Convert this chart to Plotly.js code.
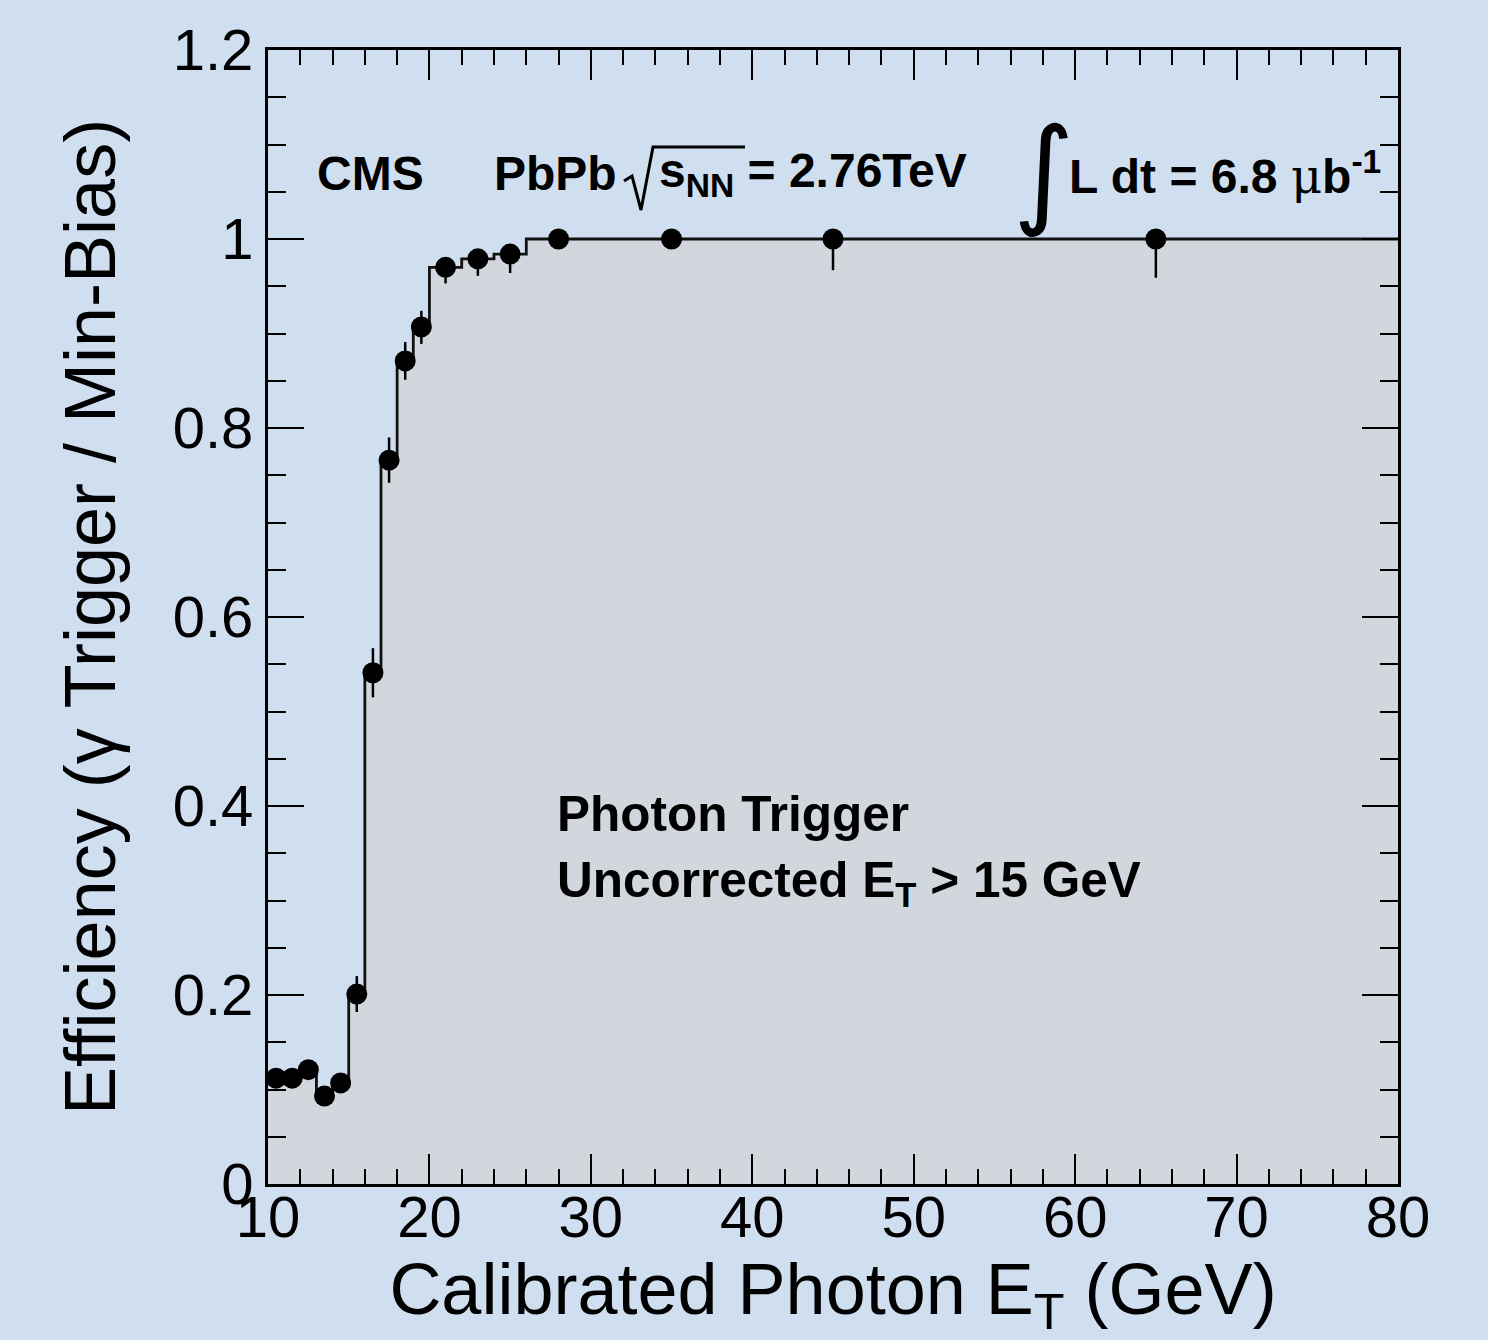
<!DOCTYPE html>
<html>
<head>
<meta charset="utf-8">
<script src="https://cdn.plot.ly/plotly-3.0.1.min.js"></script>
<style>
  html, body { margin: 0; padding: 0; background: #cfdff0; }
  #chart { width: 1488px; height: 1340px; }
</style>
</head>
<body>
<div id="chart"></div>
<script>
// ---- data ----
// histogram bin edges (GeV) and efficiency per bin
const binEdges = [10, 11, 12, 13, 14, 15, 16, 17, 18, 19, 20, 22, 24, 26, 30, 40, 50, 80];
const binCenters = [10.5, 11.5, 12.5, 13.5, 14.5, 15.5, 16.5, 17.5, 18.5, 19.5, 21, 23, 25, 28, 35, 45, 65];
const efficiency = [0.112, 0.112, 0.121, 0.093, 0.107, 0.201, 0.541, 0.766, 0.871, 0.907, 0.970, 0.979, 0.984, 1.0, 1.0, 1.0, 1.0];
const errUp   = [0.010, 0.010, 0.010, 0.010, 0.010, 0.019, 0.026, 0.024, 0.020, 0.017, 0.010, 0.009, 0.008, 0.0, 0.0, 0.0, 0.0];
const errDown = [0.010, 0.010, 0.010, 0.010, 0.010, 0.019, 0.026, 0.024, 0.020, 0.018, 0.017, 0.018, 0.020, 0.008, 0.010, 0.033, 0.041];

const xTickVals = [10, 20, 30, 40, 50, 60, 70, 80];
const yTickVals = [0, 0.2, 0.4, 0.6, 0.8, 1.0, 1.2];
const yTickText = ['0', '0.2', '0.4', '0.6', '0.8', '1', '1.2'];

// step histogram: each bin's left edge with its value, closed at the last edge
const stepX = binEdges.slice();
const stepY = efficiency.concat([efficiency[efficiency.length - 1]]);

const FONT = 'Liberation Sans, Arial, Helvetica, sans-serif';
const BG = '#cfdff0';

const histTrace = {
  type: 'scatter',
  mode: 'lines',
  x: stepX,
  y: stepY,
  line: { shape: 'hv', color: '#111111', width: 2.8 },
  fill: 'tozeroy',
  fillcolor: '#d2d7de',
  hoverinfo: 'skip',
  showlegend: false
};

const pointTrace = {
  type: 'scatter',
  mode: 'markers',
  x: binCenters,
  y: efficiency,
  marker: { color: '#000000', size: 21, symbol: 'circle' },
  error_y: {
    type: 'data', symmetric: false,
    array: errUp, arrayminus: errDown,
    color: '#000000', thickness: 2.5, width: 0
  },
  showlegend: false
};

const axisCommon = {
  showline: true, linecolor: '#000000', linewidth: 3,
  mirror: 'allticks',
  ticks: 'inside', tickcolor: '#000000', tickwidth: 2,
  showgrid: false, zeroline: false,
  tickfont: { family: FONT, size: 58, color: '#000000' }
};

// text positions in paper fractions for the radical sign decoration
const px = p => (p - 268) / 1130;
const py = p => (1184 - p) / 1134;

const layout = {
  width: 1488, height: 1340,
  paper_bgcolor: BG, plot_bgcolor: BG,
  margin: { l: 268, r: 90, t: 50, b: 156 },
  showlegend: false,
  xaxis: Object.assign({}, axisCommon, {
    range: [10, 80],
    tickmode: 'array', tickvals: xTickVals,
    ticklen: 30,
    ticklabelstandoff: -20,
    minor: { dtick: 2, tick0: 10, ticklen: 15, tickwidth: 2, tickcolor: '#000000', ticks: 'inside' },
    title: { text: 'Calibrated Photon E<sub>T</sub> (GeV)', font: { family: FONT, size: 72, color: '#000000' }, standoff: 0 }
  }),
  yaxis: Object.assign({}, axisCommon, {
    range: [0, 1.2],
    tickmode: 'array', tickvals: yTickVals, ticktext: yTickText,
    ticklen: 36,
    minor: { dtick: 0.05, tick0: 0, ticklen: 18, tickwidth: 2, tickcolor: '#000000', ticks: 'inside' },
    title: { text: 'Efficiency (γ Trigger / Min-Bias)', font: { family: FONT, size: 72, color: '#000000' }, standoff: 34 }
  }),
  shapes: [
    { type: 'path', xref: 'paper', yref: 'paper',
      path: 'M' + px(624) + ',' + py(181) + ' L' + px(632) + ',' + py(176) + ' L' + px(641) + ',' + py(210) +
            ' L' + px(653) + ',' + py(147) + ' L' + px(745) + ',' + py(147),
      line: { color: '#000000', width: 3 } }
  ],
  annotations: [
    { xref: 'x', yref: 'y', x: 12.9, y: 1.069, xanchor: 'left', yanchor: 'middle', showarrow: false,
      text: '<b>CMS</b>', font: { family: FONT, size: 48, color: '#000000' } },
    { xref: 'x', yref: 'y', x: 23.9, y: 1.069, xanchor: 'left', yanchor: 'middle', showarrow: false,
      text: '<b>PbPb</b>', font: { family: FONT, size: 48, color: '#000000' } },
    { xref: 'x', yref: 'y', x: 34.1, y: 1.069, xanchor: 'left', yanchor: 'middle', showarrow: false,
      text: '<b>s<sub>NN</sub> = 2.76TeV</b>', font: { family: FONT, size: 48, color: '#000000' } },
    { xref: 'x', yref: 'y', x: 56.0, y: 1.072, xanchor: 'left', yanchor: 'middle', showarrow: false,
      text: '∫', font: { family: 'DejaVu Sans, sans-serif', size: 118, color: '#000000' } },
    { xref: 'x', yref: 'y', x: 59.5, y: 1.069, xanchor: 'left', yanchor: 'middle', showarrow: false,
      text: '<b>L dt = 6.8</b> <span style="font-family:DejaVu Serif;font-weight:normal">μ</span><b>b<sup>-1</sup></b>',
      font: { family: FONT, size: 48, color: '#000000' } },
    { xref: 'x', yref: 'y', x: 27.8, y: 0.392, xanchor: 'left', yanchor: 'middle', showarrow: false,
      text: '<b>Photon Trigger</b>', font: { family: FONT, size: 49.5, color: '#000000' } },
    { xref: 'x', yref: 'y', x: 27.8, y: 0.318, xanchor: 'left', yanchor: 'middle', showarrow: false,
      text: '<b>Uncorrected E<sub>T</sub> &gt; 15 GeV</b>', font: { family: FONT, size: 49.5, color: '#000000' } }
  ]
};

Plotly.newPlot('chart', [histTrace, pointTrace], layout, { displayModeBar: false, staticPlot: true });
</script>
</body>
</html>
